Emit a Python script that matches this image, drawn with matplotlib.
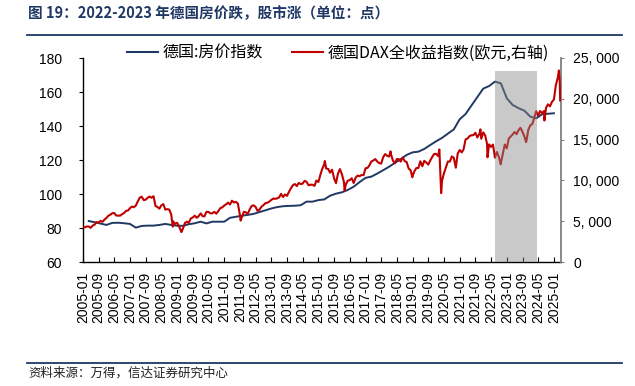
import matplotlib
matplotlib.use("Agg")
import matplotlib.pyplot as plt
import matplotlib.ticker as mticker
from matplotlib.lines import Line2D
import pandas as pd

plt.rcParams['font.family'] = ['Liberation Sans', 'Noto Sans CJK SC', 'DejaVu Sans']

# ---------------- data ----------------
title = "图 19：2022-2023 年德国房价跌，股市涨（单位：点）"
source = "资料来源：万得，信达证券研究中心"
label_house = "德国:房价指数"
label_dax = "德国DAX全收益指数(欧元,右轴)"

# German house price index, quarterly (quarter end), 2005Q1 - 2024Q4
house_start = "2005-03-31"
house_values = [
    84.1, 83.4, 82.6, 81.8,
    83.0, 83.1, 82.8, 82.4,
    80.2, 81.2, 81.4, 81.4,
    81.8, 82.4, 81.8, 81.3,
    81.3, 82.2, 82.8, 83.7,
    82.7, 83.7, 83.7, 83.7,
    86.0, 86.6, 87.2, 87.7,
    88.3, 89.4, 90.4, 91.5,
    92.3, 92.8, 93.0, 93.1,
    93.4, 95.5, 95.5, 96.4,
    96.8, 99.0, 100.2, 101.0,
    102.4, 104.3, 107.0, 109.5,
    110.2, 112.0, 114.0, 116.0,
    118.3, 120.5, 123.0, 124.5,
    124.9, 126.5, 128.8, 131.0,
    133.0, 135.5, 138.0, 144.0,
    147.0, 152.0, 157.0, 162.0,
    163.5, 166.1, 165.1, 156.3,
    152.4, 150.5, 149.0, 145.5,
    144.5, 146.9, 147.2, 147.5,
]

# DAX, month-end levels 2005-01 .. 2025-03
dax_start = "2005-01-31"
dax_monthly = [
    4255, 4350, 4349, 4185, 4460, 4587, 4886, 4830, 5044, 4929, 5193, 5408,
    5674, 5796, 5970, 6009, 5692, 5683, 5682, 5859, 6004, 6269, 6309, 6597,
    6789, 6715, 6917, 7409, 7883, 8007, 7584, 7638, 7862, 8019, 7871, 8067,
    6852, 6748, 6535, 6949, 7096, 6418, 6480, 6422, 5831, 4988, 4669, 4810,
    4338, 3843, 4085, 4770, 4941, 4809, 5332, 5465, 5675, 5415, 5625, 5957,
    5608, 5598, 6154, 6136, 5964, 5966, 6148, 5925, 6229, 6601, 6688, 6914,
    7077, 7272, 7041, 7514, 7294, 7376, 7159, 5785, 5502, 6141, 6089, 5898,
    6458, 6856, 6947, 6761, 6264, 6416, 6773, 6971, 7216, 7260, 7405, 7612,
    7776, 7742, 7795, 7914, 8349, 7959, 8276, 8104, 8594, 9033, 9406, 9552,
    9306, 9692, 9556, 9603, 9943, 9833, 9407, 9470, 9474, 9327, 9981, 9806,
    10694, 11402, 11966, 11454, 11414, 10945, 11309, 10259, 9660, 10850, 11382, 10743,
    9798, 9495, 9966, 10039, 10263, 9680, 10337, 10593, 10511, 10665, 10640, 11481,
    11535, 11834, 12313, 12438, 12615, 12325, 12118, 12056, 12829, 13230, 13024, 12918,
    13189, 12436, 12097, 12612, 12605, 12306, 12806, 12364, 12247, 11448, 11257, 10559,
    11173, 11516, 11526, 12344, 11727, 12399, 12189, 11939, 12428, 12867, 13236, 13249,
    12982, 11890, 9936, 10862, 11587, 12311, 12313, 12945, 12761, 11556, 13291, 13719,
    13433, 13786, 15008, 15136, 15421, 15531, 15544, 15835, 15261, 15689, 15100, 15885,
    15471, 14461, 14415, 14098, 14388, 12784, 13484, 12835, 12114, 13254, 14397, 13924,
    15128, 15365, 15629, 15922, 15664, 16148, 16447, 15947, 15387, 14810, 16215, 16752,
    16904, 17678, 18492, 17932, 18498, 18235, 18509, 18907, 19325, 19078, 19626, 19909,
    21732, 22551, 22163,
]
# intra-month extremes and end point
dax_extra_dates = ["2005-01-03", "2008-10-24", "2009-03-06", "2011-09-12",
                   "2015-04-10", "2016-02-11", "2018-01-23", "2018-12-27",
                   "2020-02-19", "2020-03-18", "2021-11-17", "2022-03-07",
                   "2022-09-29", "2023-10-26", "2024-08-05", "2025-03-18",
                   "2025-04-07"]
dax_extra_values = [4250, 4335, 3666, 5072,
                    12375, 8753, 13560, 10382,
                    13789, 8442, 16251, 12832,
                    11976, 14688, 17339, 23476,
                    19790]

shade_start, shade_end = "2022-07-01", "2024-04-15"
x_start, x_end = "2005-01-01", "2025-04-12"

# ---------------- build series ----------------
house_dates = pd.date_range(house_start, periods=len(house_values), freq="QE")
dax = pd.concat([
    pd.Series(dax_monthly, index=pd.date_range(dax_start, periods=len(dax_monthly), freq="ME")),
    pd.Series(dax_extra_values, index=pd.to_datetime(dax_extra_dates)),
]).sort_index()

BLUE = "#203864"
RED = "#C00000"
NAVY = "#1F3864"

fig = plt.figure(figsize=(6.35, 3.86), dpi=100)
ax = fig.add_axes([83 / 635, 1 - 262 / 386, (560.5 - 83) / 635, (262 - 58) / 386])
ax2 = ax.twinx()

ax.plot(house_dates, house_values, color=BLUE, lw=1.4, zorder=3)
ax2.plot(dax.index, dax.values, color=RED, lw=1.5, zorder=3)
ax2.axvspan(pd.Timestamp(shade_start), pd.Timestamp(shade_end), ymin=0, ymax=0.936,
            color="#888888", alpha=0.45, lw=0, zorder=5)

ax.set_xlim(pd.Timestamp(x_start), pd.Timestamp(x_end))
ax.set_ylim(60, 180)
ax.set_yticks(range(60, 181, 20))
ax2.set_ylim(0, 25000)
ax2.set_yticks(range(0, 25001, 5000))
ax2.yaxis.set_major_formatter(mticker.FuncFormatter(lambda v, p: f"{int(v):,}".replace(",", ", ")))

ticks = pd.date_range("2005-01-01", "2025-01-01", freq="8MS")
ax.set_xticks(ticks)
ax.set_xticklabels([t.strftime("%Y-%m") for t in ticks], rotation=90)

for a in (ax, ax2):
    a.spines['top'].set_visible(False)
ax.spines['right'].set_visible(False)
ax2.spines['left'].set_visible(False)
ax2.spines['bottom'].set_visible(False)
ax2.spines['right'].set_color("#808080")
ax2.spines['right'].set_linewidth(1.3)
ax.spines['left'].set_linewidth(1.0)
ax.spines['bottom'].set_linewidth(1.0)

ax.tick_params(axis='y', direction='out', length=3, pad=12, labelsize=10, colors='black')
ax.tick_params(axis='x', direction='in', length=3.6, pad=7, labelsize=10)
ax2.tick_params(axis='y', direction='out', length=2.5, pad=6.5, labelsize=10,
                color="#808080", labelcolor='black')

# title, rules, source
fig.text(28 / 635, 1 - 13 / 386, title, fontsize=10.5, fontweight='bold', color=NAVY,
         va='center', ha='left', family=['Noto Sans CJK SC', 'DejaVu Sans'])
fig.add_artist(Line2D([27 / 635, 622 / 635], [1 - 35 / 386] * 2, color=NAVY, lw=1.3))
fig.add_artist(Line2D([27 / 635, 622 / 635], [1 - 363 / 386] * 2, color=NAVY, lw=1.3))
fig.text(28 / 635, 1 - 373 / 386, source, fontsize=9, color='#222222', style='italic',
         va='center', ha='left', family=['Noto Sans CJK SC', 'DejaVu Sans'])

handles = [Line2D([], [], color=BLUE, lw=1.5), Line2D([], [], color=RED, lw=1.5)]
fig.legend(handles, [label_house, label_dax], loc='center left',
           bbox_to_anchor=(127 / 635, 1 - 53 / 386), ncol=2, frameon=False,
           prop={'family': ['Noto Sans CJK SC', 'DejaVu Sans'], 'size': 11.5},
           handlelength=1.95, handletextpad=0.3, columnspacing=1.8,
           borderpad=0, borderaxespad=0)

fig.savefig("out.png", dpi=100)
